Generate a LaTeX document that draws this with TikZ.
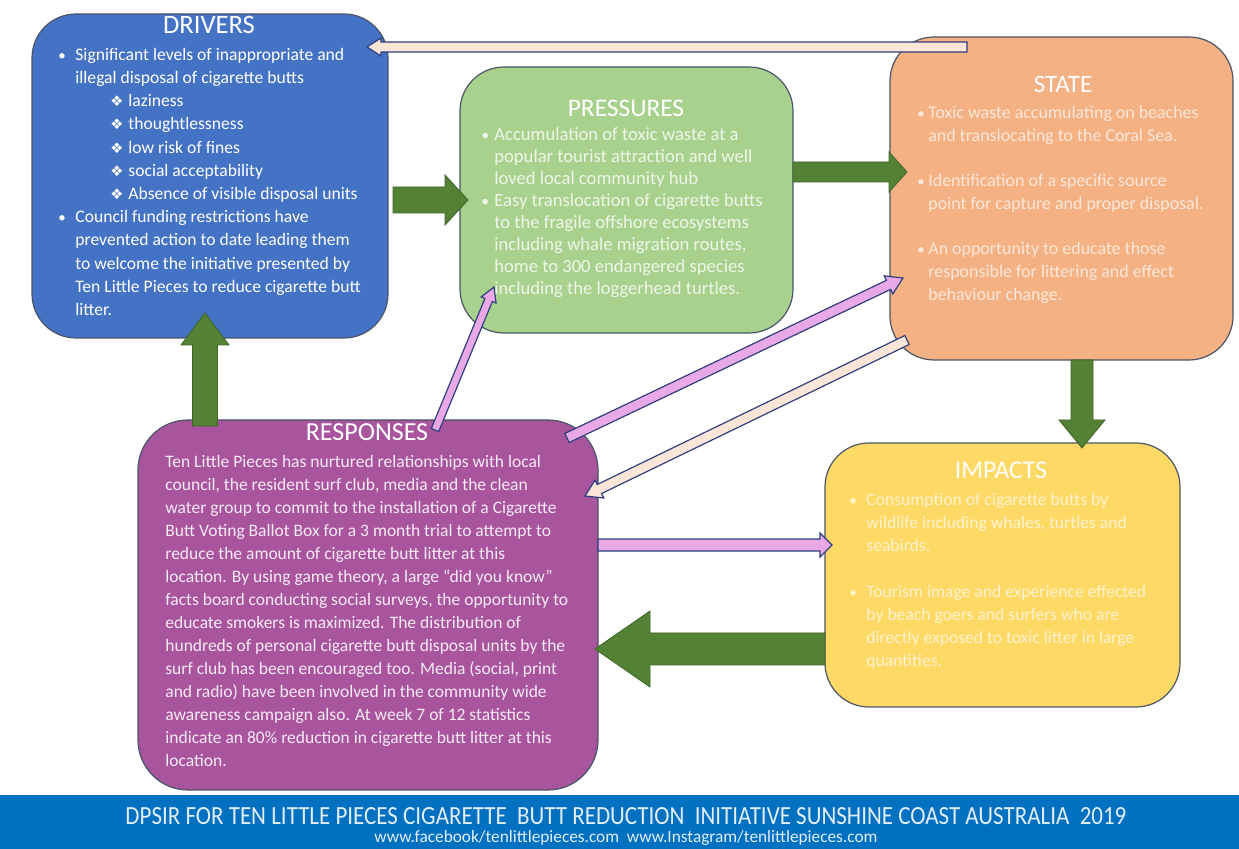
\documentclass[tikz,border=0pt]{standalone}
\usepackage{fontspec}
\usepackage{graphicx}
\setmainfont{Carlito}
\newfontfamily\djv{DejaVu Sans}
\usetikzlibrary{calc}
\definecolor{cDrv}{HTML}{4472C4}
\definecolor{cPrs}{HTML}{A9D18E}
\definecolor{cSta}{HTML}{F4B183}
\definecolor{cImp}{HTML}{FFD966}
\definecolor{cRsp}{HTML}{A8559E}
\definecolor{cBorder}{HTML}{4A5568}
\definecolor{cGreen}{HTML}{548235}
\definecolor{cGreenD}{HTML}{3F6428}
\definecolor{cPink}{HTML}{E9A9E6}
\definecolor{cPeach}{HTML}{FBE5D6}
\definecolor{cNavy}{HTML}{2F3F7F}
\definecolor{cFoot}{HTML}{0070C0}
\definecolor{cFootTxt}{HTML}{E3EEF8}
\definecolor{tPrs}{HTML}{EEF6E8}
\definecolor{tSta}{HTML}{FBE7D9}
\definecolor{tImp}{HTML}{FFF3CF}
\definecolor{tRsp}{HTML}{F6EAF4}
\newcommand{\bu}[1]{\makebox[#1][l]{\scalebox{0.85}{\textbullet}}}
\newcommand{\ind}[1]{\makebox[#1]{}}
\newcommand{\sub}{\makebox[26pt]{}\makebox[9pt][l]{{\djv\fontsize{7.3pt}{7.3pt}\selectfont ❖}}}
\newcommand{\fs}{\rule{0pt}{8pt}}
\newcommand{\blockarrow}[6]{%
  \coordinate (ba-h) at ($(#3)!#6!(#2)$);
  \path[#1] ($(#2)!#4!90:(#3)$) -- ($(ba-h)!#4!-90:(#2)$) -- ($(ba-h)!#5!-90:(#2)$) -- (#3)
    -- ($(ba-h)!#5!90:(#2)$) -- ($(ba-h)!#4!90:(#2)$) -- ($(#2)!#4!-90:(#3)$) -- cycle;
}
\begin{document}
\begin{tikzpicture}[x=0.5pt,y=-0.5pt,
  box/.style={draw=cBorder, line width=0.6pt, rounded corners=22pt, inner sep=0pt},
  ttl/.style={anchor=base, inner sep=0pt, text=white},
  body/.style={anchor=north west, inner sep=0pt, align=left},
  garrow/.style={fill=cGreen, draw=cGreenD, line width=0.4pt},
  parrow/.style={fill=cPink, draw=cNavy, line width=0.6pt},
  carrow/.style={fill=cPeach, draw=cNavy, line width=0.6pt}]
\useasboundingbox (0,0) rectangle (1239,849);
\fill[white] (0,0) rectangle (1239,849);

% boxes
\node[box, fill=cDrv, minimum width=178pt, minimum height=162pt] (drivers) at (210,176) {};
\node[box, fill=cPrs, minimum width=166.5pt, minimum height=133pt] (pressures) at (626.5,200) {};
\node[box, fill=cSta, minimum width=171.5pt, minimum height=161.5pt] (state) at (1061.5,198.5) {};
\node[box, fill=cImp, minimum width=177.5pt, minimum height=132pt] (impacts) at (1002.5,575) {};
\node[box, fill=cRsp, rounded corners=25pt, minimum width=230pt, minimum height=185pt] (responses) at (368,605) {};
\node[fill=cFoot, inner sep=0pt, minimum width=619.5pt, minimum height=27pt, anchor=north west] (footer) at (0,795) {};

% connector end points
\coordinate (dp1) at (393,200);  \coordinate (dp2) at (468,200);
\coordinate (ps1) at (793,172);  \coordinate (ps2) at (907,172);
\coordinate (si1) at (1082,360); \coordinate (si2) at (1082,448);
\coordinate (ir1) at (825,649);  \coordinate (ir2) at (595,649);
\coordinate (rd1) at (205,426);  \coordinate (rd2) at (205,313);
\coordinate (sd1) at (967,47);   \coordinate (sd2) at (367,47);
\coordinate (rp1) at (435,430);  \coordinate (rp2) at (494,287);
\coordinate (rs1) at (567,438);  \coordinate (rs2) at (903,278);
\coordinate (sr1) at (907,340);  \coordinate (sr2) at (585,496);
\coordinate (ri1) at (598,545);  \coordinate (ri2) at (832,545);

% connectors
\blockarrow{garrow}{dp1}{dp2}{6.5pt}{12.5pt}{11.5pt}
\blockarrow{garrow}{ps1}{ps2}{5pt}{10pt}{9pt}
\blockarrow{garrow}{si1}{si2}{5.5pt}{11.5pt}{14pt}
\blockarrow{garrow}{ir1}{ir2}{8pt}{19pt}{27.5pt}
\blockarrow{garrow}{rd1}{rd2}{6.25pt}{12pt}{16pt}
\blockarrow{carrow}{sd1}{sd2}{2.5pt}{4.5pt}{7pt}
\blockarrow{parrow}{rp1}{rp2}{2pt}{4pt}{7pt}
\blockarrow{parrow}{rs1}{rs2}{2.5pt}{5pt}{8pt}
\blockarrow{carrow}{sr1}{sr2}{2.5pt}{5pt}{8pt}
\blockarrow{parrow}{ri1}{ri2}{3pt}{6pt}{6pt}

% DRIVERS
\node[ttl, font=\fontsize{13.3pt}{16pt}\selectfont] (drvT) at (209,34) {DRIVERS};
\node[body, text=white, font=\fontsize{8.8pt}{11.6pt}\selectfont] (drvB) at (58,44) {%
\fs\bu{8.5pt}Significant levels of inappropriate and\\
\ind{8.5pt}illegal disposal of cigarette butts\\
\sub laziness\\
\sub thoughtlessness\\
\sub low risk of fines\\
\sub social acceptability\\
\sub Absence of visible disposal units\\
\bu{8.5pt}Council funding restrictions have\\
\ind{8.5pt}prevented action to date leading them\\
\ind{8.5pt}to welcome the initiative presented by\\
\ind{8.5pt}Ten Little Pieces to reduce cigarette butt\\
\ind{8.5pt}litter.};

% PRESSURES
\node[ttl, font=\fontsize{12.7pt}{15pt}\selectfont] (prsT) at (626,117) {PRESSURES};
\node[body, text=tPrs, font=\fontsize{9.3pt}{11pt}\selectfont] (prsB) at (481,124) {%
\fs\bu{6.5pt}Accumulation of toxic waste at a\\
\ind{6.5pt}popular tourist attraction and well\\
\ind{6.5pt}loved local community hub\\
\bu{6.5pt}Easy translocation of cigarette butts\\
\ind{6.5pt}to the fragile offshore ecosystems\\
\ind{6.5pt}including whale migration routes,\\
\ind{6.5pt}home to 300 endangered species\\
\ind{6.5pt}including the loggerhead turtles.};

% STATE
\node[ttl, font=\fontsize{12.5pt}{15pt}\selectfont] (staT) at (1063,93) {STATE};
\node[body, text=tSta, font=\fontsize{8.95pt}{11.375pt}\selectfont] (staB) at (917,102) {%
\fs\bu{5.5pt}Toxic waste accumulating on beaches\\
\ind{5.5pt}and translocating to the Coral Sea.\\
\mbox{}\\
\bu{5.5pt}Identification of a specific source\\
\ind{5.5pt}point for capture and proper disposal.\\
\mbox{}\\
\bu{5.5pt}An opportunity to educate those\\
\ind{5.5pt}responsible for littering and effect\\
\ind{5.5pt}behaviour change.};

% IMPACTS
\node[ttl, font=\fontsize{12.8pt}{15pt}\selectfont] (impT) at (1001,479) {IMPACTS};
\node[body, text=tImp, font=\fontsize{8.8pt}{11.5pt}\selectfont] (impB) at (849,489) {%
\fs\bu{8.5pt}Consumption of cigarette butts by\\
\ind{8.5pt}wildlife including whales, turtles and\\
\ind{8.5pt}seabirds.\\
\mbox{}\\
\bu{8.5pt}Tourism image and experience effected\\
\ind{8.5pt}by beach goers and surfers who are\\
\ind{8.5pt}directly exposed to toxic litter in large\\
\ind{8.5pt}quantities.};

% RESPONSES
\node[ttl, font=\fontsize{13pt}{15pt}\selectfont] (rspT) at (367,441) {RESPONSES};
\node[body, text=tRsp, font=\fontsize{8.75pt}{11.5pt}\selectfont] (rspB) at (165,451) {%
\fs Ten Little Pieces has nurtured relationships with local\\
council, the resident surf club, media and the clean\\
water group to commit to the installation of a Cigarette\\
Butt Voting Ballot Box for a 3 month trial to attempt to\\
reduce the amount of cigarette butt litter at this\\
location. By using game theory, a large “did you know”\\
facts board conducting social surveys, the opportunity to\\
educate smokers is maximized. The distribution of\\
hundreds of personal cigarette butt disposal units by the\\
surf club has been encouraged too. Media (social, print\\
and radio) have been involved in the community wide\\
awareness campaign also. At week 7 of 12 statistics\\
indicate an 80\% reduction in cigarette butt litter at this\\
location.};

% footer
\node[anchor=base, inner sep=0pt, text=cFootTxt] (ftitle) at (626,825)
  {\resizebox{500.5pt}{8.5pt}{DPSIR FOR TEN LITTLE PIECES CIGARETTE\ \ BUTT REDUCTION\ \ INITIATIVE SUNSHINE COAST AUSTRALIA\ \ 2019}};
\node[anchor=base, inner sep=0pt, text=cFootTxt] (furl) at (626,843)
  {\resizebox{251.5pt}{!}{www.facebook/tenlittlepieces.com\ \ www.Instagram/tenlittlepieces.com}};
\end{tikzpicture}
\end{document}
